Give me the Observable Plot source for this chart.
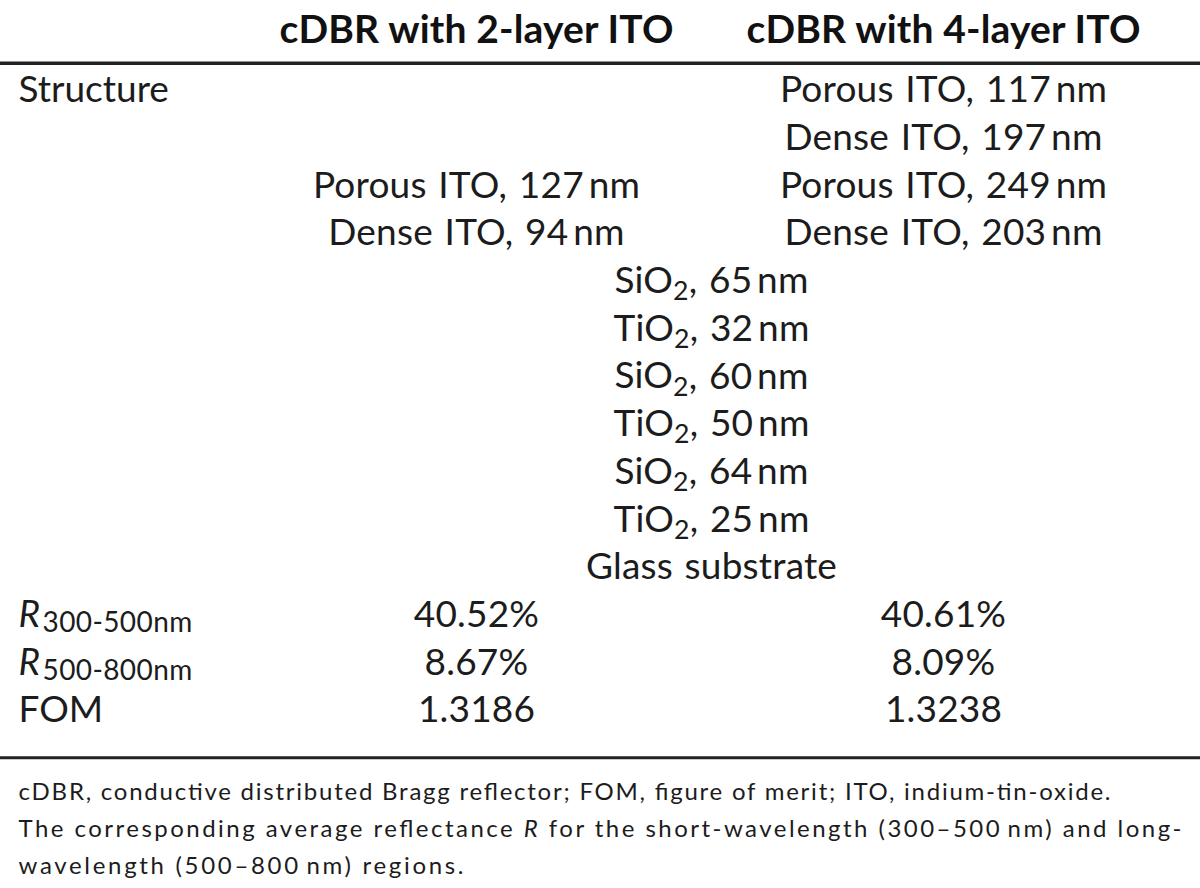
<!DOCTYPE html>
<html>
<head>
<meta charset="utf-8">
<script src="https://cdn.jsdelivr.net/npm/d3@7"></script>
<script src="https://cdn.jsdelivr.net/npm/@observablehq/plot@0.6"></script>
<style>
  html, body { margin: 0; padding: 0; background: #fff; }
  #chart svg { display: block; }
</style>
</head>
<body>
<div id="chart"></div>
<script>
// ---- data ----
const colHeaders = ["cDBR with 2-layer ITO", "cDBR with 4-layer ITO"];
const rowLabels = ["Structure", "R", "R", "FOM"];
const rowLabelSubs = ["", "300-500nm", "500-800nm", ""];
const ito2Layers = ["Porous ITO, 127\u2009nm", "Dense ITO, 94\u2009nm"];
const ito4Layers = ["Porous ITO, 117\u2009nm", "Dense ITO, 197\u2009nm", "Porous ITO, 249\u2009nm", "Dense ITO, 203\u2009nm"];
const dbrLayers = ["SiO₂, 65\u2009nm", "TiO₂, 32\u2009nm", "SiO₂, 60\u2009nm", "TiO₂, 50\u2009nm", "SiO₂, 64\u2009nm", "TiO₂, 25\u2009nm", "Glass substrate"];
const r300 = ["40.52%", "40.61%"];
const r500 = ["8.67%", "8.09%"];
const fom = ["1.3186", "1.3238"];
const footnote = [
  "cDBR, conductive distributed Bragg reflector; FOM, figure of merit; ITO, indium-tin-oxide.",
  "The corresponding average reflectance R for the short-wavelength (300–500\u2009nm) and long-",
  "wavelength (500–800\u2009nm) regions."
];

// ---- layout ----
const colX = {label: 18, c1: 476, mid: 711, c2: 943};
const headerRow = -1.26, topRuleRow = -0.57, bottomRuleRow = 13.99;
const footRows = [14.72, 15.5, 16.26];
const headerWidth = 394;
const footWidths = [1092, 1163, 445];
const font = "Lato, 'Open Sans', sans-serif";
const ink = "#1c1c1c";

// ---- build cells ----
const cells = [];
ito4Layers.forEach((t, i) => cells.push({row: i, col: "c2", text: t}));
ito2Layers.forEach((t, i) => cells.push({row: 2 + i, col: "c1", text: t}));
dbrLayers.forEach((t, i) => cells.push({row: 4 + i, col: "mid", text: t}));
[r300, r500, fom].forEach((vals, k) => {
  cells.push({row: 11 + k, col: "c1", text: vals[0]});
  cells.push({row: 11 + k, col: "c2", text: vals[1]});
});
const labelRows = [0, 11, 12, 13];
const labels = rowLabels.map((t, i) => ({row: labelRows[i], text: t, sub: rowLabelSubs[i]}));
const headers = colHeaders.map((t, i) => ({row: headerRow, col: i === 0 ? "c1" : "c2", text: t}));
const foot = footnote.map((t, i) => ({row: footRows[i], text: t}));

const chart = Plot.plot({
  width: 1200,
  height: 888,
  margin: 0,
  x: {type: "linear", domain: [0, 1200], range: [0, 1200], axis: null},
  y: {type: "linear", domain: [0, 13], range: [90, 710], axis: null},
  style: {background: "#fff"},
  marks: [
    Plot.text(headers, {x: d => colX[d.col], y: "row", text: "text", fontSize: 39, fontWeight: "bold", fontFamily: font, fill: "#111"}),
    Plot.ruleY([topRuleRow], {stroke: "#222", strokeWidth: 3.5}),
    Plot.text(cells, {x: d => colX[d.col], y: "row", text: "text", fontSize: 37, fontFamily: font, fill: ink}),
    Plot.text(labels.filter(d => !d.sub), {x: colX.label, y: "row", text: "text", textAnchor: "start", fontSize: 37, fontFamily: font, fill: ink}),
    Plot.text(labels.filter(d => d.sub), {x: colX.label, y: "row", text: "text", textAnchor: "start", fontSize: 37, fontStyle: "italic", fontFamily: font, fill: ink}),
    Plot.text(labels.filter(d => d.sub), {x: colX.label, y: "row", text: "sub", dx: 24, dy: 8, textAnchor: "start", fontSize: 28, fontFamily: font, fill: ink}),
    Plot.ruleY([bottomRuleRow], {stroke: "#222", strokeWidth: 3}),
    Plot.text(foot, {x: colX.label, y: "row", text: "text", textAnchor: "start", fontSize: 24, fontFamily: font, fill: ink})
  ]
});

// typographic spacing per mark group (in mark order)
const groups = d3.select(chart).selectAll(":scope > g").nodes();
d3.select(groups[0]).selectAll("text").attr("textLength", headerWidth).attr("lengthAdjust", "spacing");
d3.select(groups[2]).selectAll("text").style("letter-spacing", "0.2px").style("word-spacing", "2px");
d3.select(groups[5]).selectAll("text").style("letter-spacing", "0.4px");
d3.select(groups[7]).selectAll("text").each(function(d, i) {
  d3.select(this).attr("textLength", footWidths[i]).attr("lengthAdjust", "spacing");
});

// chemistry subscripts and italic symbol, kept as real text via tspans
d3.select(chart).selectAll("text").each(function() {
  const t = this.textContent;
  if (t.includes("₂")) {
    const parts = t.split("₂");
    const el = d3.select(this);
    el.text(null);
    parts.forEach((p, i) => {
      if (i > 0) {
        el.append("tspan").attr("font-size", "0.72em").attr("dy", "0.27em").text("2");
        el.append("tspan").attr("dy", "-0.19em").text(p);
      } else {
        el.append("tspan").text(p);
      }
    });
  } else if (t.includes(" R ")) {
    const [a, b] = t.split(" R ");
    const el = d3.select(this);
    el.text(null);
    el.append("tspan").text(a + " ");
    el.append("tspan").attr("font-style", "italic").text("R");
    el.append("tspan").text(" " + b);
  }
});
document.getElementById("chart").appendChild(chart);
</script>
</body>
</html>
